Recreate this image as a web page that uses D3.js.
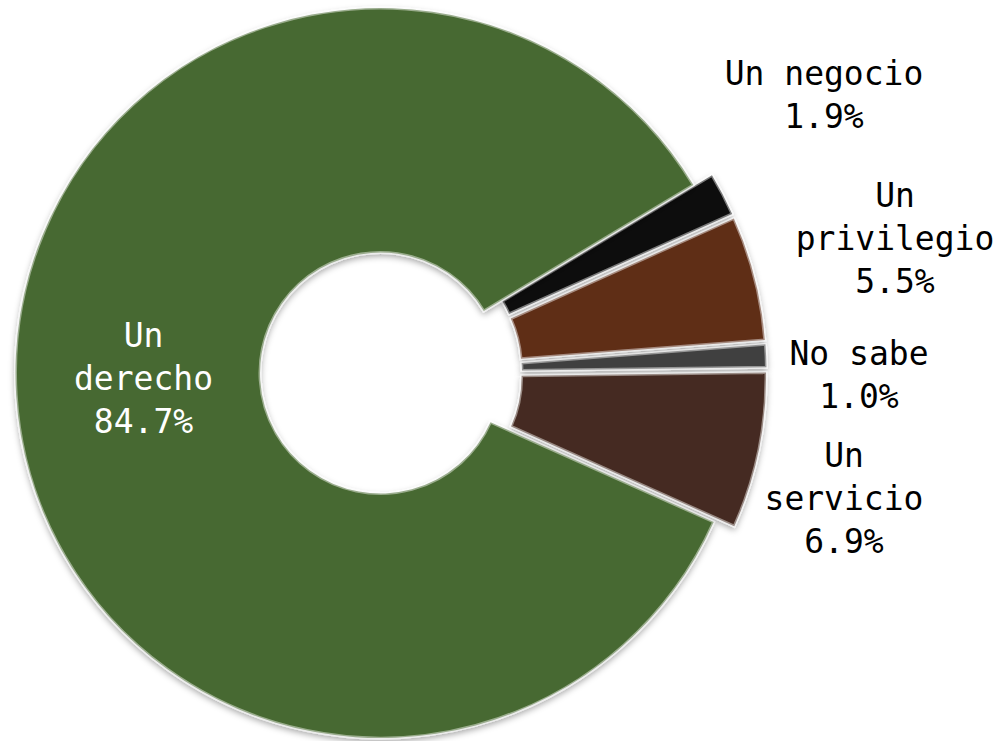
<!DOCTYPE html>
<html>
<head>
<meta charset="utf-8">
<script src="https://cdn.jsdelivr.net/npm/d3@7"></script>
<style>
  body { margin: 0; background: #fff; }
  svg { display: block; }
</style>
</head>
<body>
<svg width="1003" height="741"></svg>
<script>
// data
const categories = ["Un negocio", "Un privilegio", "No sabe", "Un servicio", "Un derecho"];
const values = [1.9, 5.5, 1.0, 6.9, 84.7];
const labelLines = [["Un negocio"], ["Un", "privilegio"], ["No sabe"], ["Un", "servicio"], ["Un", "derecho"]];
const colors = ["#0d0d0d", "#5e2d17", "#404040", "#452a20", "#476930"];

// layout
const width = 1003, height = 741;
const cx = 380.5, cy = 373;
const outerR = 365, innerR = 120.5;
const explode = 21;
const start = 59 * Math.PI / 180;
// label anchors (center x, first baseline) - placed by hand like excel's best fit
const labelPos = [[824, 85], [895, 207], [859, 365], [844, 467], [143.5, 347]];
const lineH = 43;

const svg = d3.select("svg");
const defs = svg.append("defs");
const f = defs.append("filter").attr("id", "shadow")
    .attr("x", "-20%").attr("y", "-20%").attr("width", "140%").attr("height", "140%");
f.append("feDropShadow")
    .attr("dx", 0).attr("dy", 3).attr("stdDeviation", 3)
    .attr("flood-color", "#000").attr("flood-opacity", 0.35);

const data = categories.map((c, i) => ({ name: c, value: values[i], i: i }));

const pie = d3.pie()
    .sort(null)
    .value(d => d.value)
    .startAngle(start)
    .endAngle(start + 2 * Math.PI);

const arc = d3.arc().innerRadius(innerR).outerRadius(outerR);

const arcs = pie(data);

const g = svg.append("g").attr("transform", `translate(${cx},${cy})`);

g.selectAll(".slice")
    .data(arcs)
    .enter()
    .append("path")
    .attr("class", "slice")
    .attr("transform", d => {
        if (d.data.i == 4) return null;
        const mid = (d.startAngle + d.endAngle) / 2;
        return `translate(${Math.sin(mid) * explode},${-Math.cos(mid) * explode})`;
    })
    .attr("d", arc)
    .attr("fill", d => colors[d.data.i])
    .attr("stroke", "#fff")
    .attr("stroke-opacity", 0.45)
    .attr("stroke-width", 3)
    .attr("filter", "url(#shadow)");

const labels = svg.selectAll(".lbl")
    .data(arcs)
    .enter()
    .append("text")
    .attr("class", "lbl")
    .attr("text-anchor", "middle")
    .attr("font-family", "'DejaVu Sans Mono', monospace")
    .attr("font-size", 33)
    .attr("fill", d => d.data.i == 4 ? "#fff" : "#000");

labels.each(function(d) {
    const t = d3.select(this);
    const p = labelPos[d.data.i];
    const lines = labelLines[d.data.i].concat([d.data.value.toFixed(1) + "%"]);
    lines.forEach((l, k) => {
        t.append("tspan")
            .attr("x", p[0])
            .attr("y", p[1] + k * lineH)
            .text(l);
    });
});
</script>
</body>
</html>
